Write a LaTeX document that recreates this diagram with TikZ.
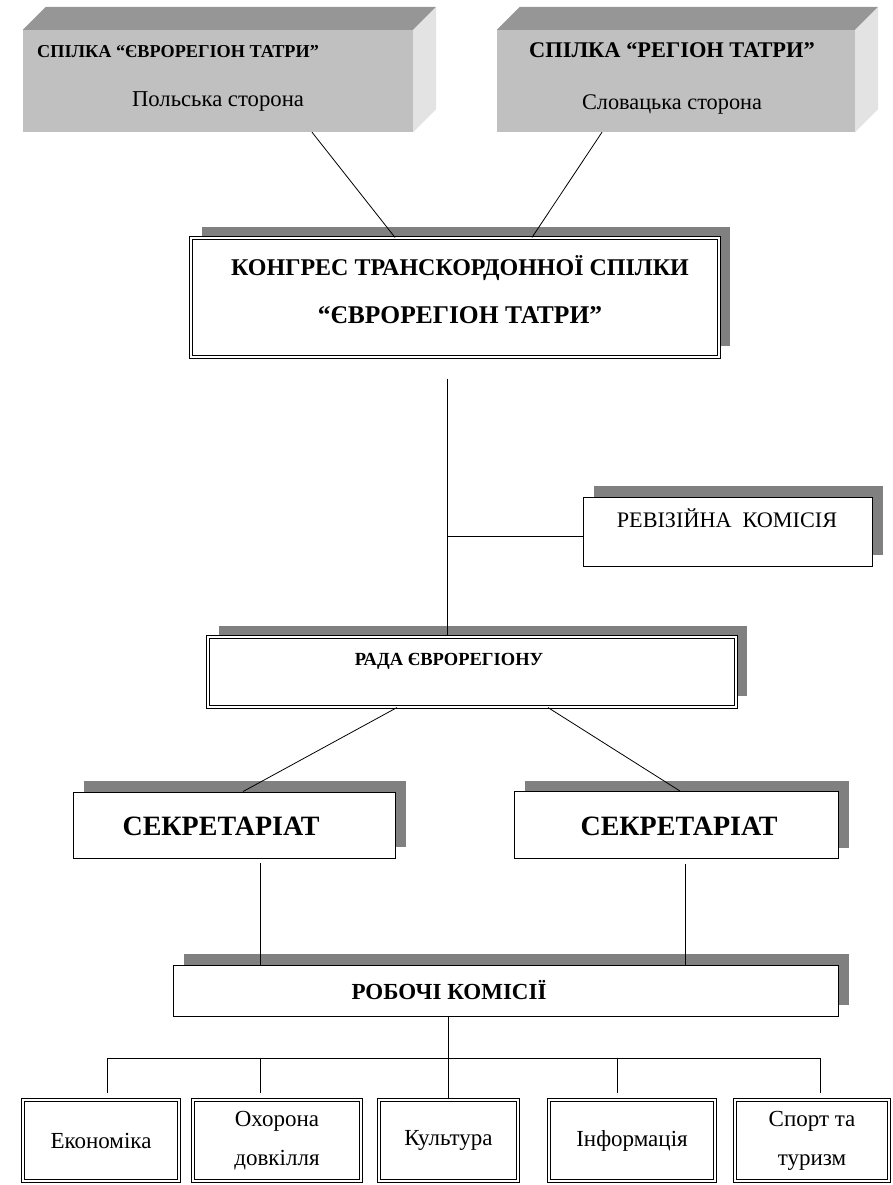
\documentclass[tikz,border=0pt]{standalone}
\usepackage{fontspec}
\setmainfont{Liberation Serif}
\usetikzlibrary{positioning,shadows}

\definecolor{frontgray}{HTML}{C0C0C0}
\definecolor{topgray}{HTML}{969696}
\definecolor{sidegray}{HTML}{E3E3E3}
\definecolor{shadowgray}{HTML}{808080}

\begin{document}
\begin{tikzpicture}[x=1pt,y=-1pt,
    front/.style={fill=frontgray, inner sep=0pt},
    topface/.style={fill=topgray},
    sideface/.style={fill=sidegray},
    shbox/.style={draw, fill=white, line width=0.9pt, inner sep=0pt,
        drop shadow={shadow xshift=11pt, shadow yshift=11pt, fill=shadowgray, opacity=1}},
    dbl/.style={draw, fill=white, double, double distance=1.6pt, line width=1.1pt, inner sep=0pt},
    dblsh/.style={dbl, drop shadow={shadow xshift=11pt, shadow yshift=11pt, fill=shadowgray, opacity=1}},
    link/.style={line width=0.8pt},
    bold/.style={font=\bfseries\fontsize{#1}{#1}\selectfont, inner sep=0pt},
    plain/.style={font=\fontsize{#1}{#1}\selectfont, inner sep=0pt}
]
    \useasboundingbox (0,0) rectangle (893,1185);

    % Two member unions (3D blocks)
    \node[front, minimum width=390pt, minimum height=102pt] (pl) at (218,81) {};
    \node[front, minimum width=358pt, minimum height=102pt] (sk) at (676,81) {};
    \foreach \b in {pl,sk} {
        \fill[topface] (\b.north west) -- ([shift={(23,-23)}]\b.north west)
            -- ([shift={(23,-23)}]\b.north east) -- (\b.north east) -- cycle;
        \fill[sideface] (\b.north east) -- ([shift={(23,-23)}]\b.north east)
            -- ([shift={(23,-23)}]\b.south east) -- (\b.south east) -- cycle;
    }
    \node[bold=18.2, anchor=west] (plT) at (37,52) {СПІЛКА “ЄВРОРЕГІОН ТАТРИ”};
    \node[plain=22.7] (plS) at (218,101) {Польська сторона};
    \node[bold=22.4] (skT) at (672,50) {СПІЛКА “РЕГІОН ТАТРИ”};
    \node[plain=22.3] (skS) at (672,104) {Словацька сторона};

    % Congress
    \node[dblsh, minimum width=528pt, minimum height=119pt] (kongres) at (455,297.5) {};
    \node[bold=24] (kongresT) at (460,268) {КОНГРЕС ТРАНСКОРДОННОЇ СПІЛКИ};
    \node[bold=25.5] (kongresN) at (460,315) {“ЄВРОРЕГІОН ТАТРИ”};

    % Audit commission
    \node[shbox, minimum width=289pt, minimum height=69pt] (reviz) at (727.5,531.5) {};
    \node[plain=22.2] (revizT) at (727,518) {РЕВІЗІЙНА\ \ КОМІСІЯ};

    % Council
    \node[dblsh, minimum width=528pt, minimum height=70pt] (rada) at (472,672) {};
    \node[bold=18.5] (radaT) at (449,661) {РАДА ЄВРОРЕГІОНУ};

    % Secretariats
    \node[shbox, minimum width=322pt, minimum height=66pt] (sec1) at (234,825) {};
    \node[bold=28] (sec1T) at (221,826) {СЕКРЕТАРІАТ};
    \node[shbox, minimum width=324pt, minimum height=67pt] (sec2) at (676,825) {};
    \node[bold=28] (sec2T) at (679,826) {СЕКРЕТАРІАТ};

    % Working commissions
    \node[shbox, minimum width=665pt, minimum height=51pt] (rob) at (505.5,990.5) {};
    \node[bold=23] (robT) at (449,990) {РОБОЧІ КОМІСІЇ};

    % Commissions
    \tikzset{every node/.append style={font=\fontsize{23}{39}\selectfont, align=center}}
    \node[dbl, minimum width=156pt, minimum height=81pt] (eko) at (101,1140.5) {Економіка};
    \node[dbl, minimum width=168pt, minimum height=81pt] (oho) at (277,1140.5) {Охорона\\довкілля};
    \node[dbl, minimum width=139pt, minimum height=81pt] (kul) at (448.5,1140.5) {Культура};
    \node[dbl, minimum width=166pt, minimum height=81pt] (inf) at (632,1140.5) {Інформація};
    \node[dbl, minimum width=154pt, minimum height=81pt] (spo) at (812,1140.5) {Спорт та\\туризм};

    % Connectors
    \draw[link] ([xshift=94pt]pl.south) -- ([xshift=-60pt]kongres.north);
    \draw[link] ([xshift=-74pt]sk.south) -- ([xshift=77pt]kongres.north);

    \coordinate (k1) at ([xshift=-8pt,yshift=-21pt]kongres.south);
    \coordinate (r1) at ([yshift=-5pt]reviz.west);
    \draw[link] (k1) -- (k1 |- rada.north);
    \draw[link] (k1 |- r1) -- (r1);

    \draw[link] ([xshift=-75pt]rada.south) -- ([xshift=9pt]sec1.north);
    \draw[link] ([xshift=76pt]rada.south) -- ([xshift=4pt]sec2.north);

    \coordinate (s1) at ([xshift=26pt,yshift=-5pt]sec1.south);
    \coordinate (s2) at ([xshift=9pt,yshift=-5pt]sec2.south);
    \draw[link] (s1) -- (s1 |- rob.north);
    \draw[link] (s2) -- (s2 |- rob.north);

    \draw[link] (kul.north) -- (kul.north |- rob.south);
    \coordinate (b1) at (107,1058);
    \coordinate (b2) at (260,1058);
    \coordinate (b4) at (617,1058);
    \coordinate (b5) at (820,1058);
    \draw[link] (b1) -- (b5);
    \draw[link] (b1) -- ([yshift=6pt]b1 |- eko.north);
    \draw[link] (b2) -- ([yshift=6pt]b2 |- oho.north);
    \draw[link] (b4) -- ([yshift=6pt]b4 |- inf.north);
    \draw[link] (b5) -- ([yshift=6pt]b5 |- spo.north);
\end{tikzpicture}
\end{document}
